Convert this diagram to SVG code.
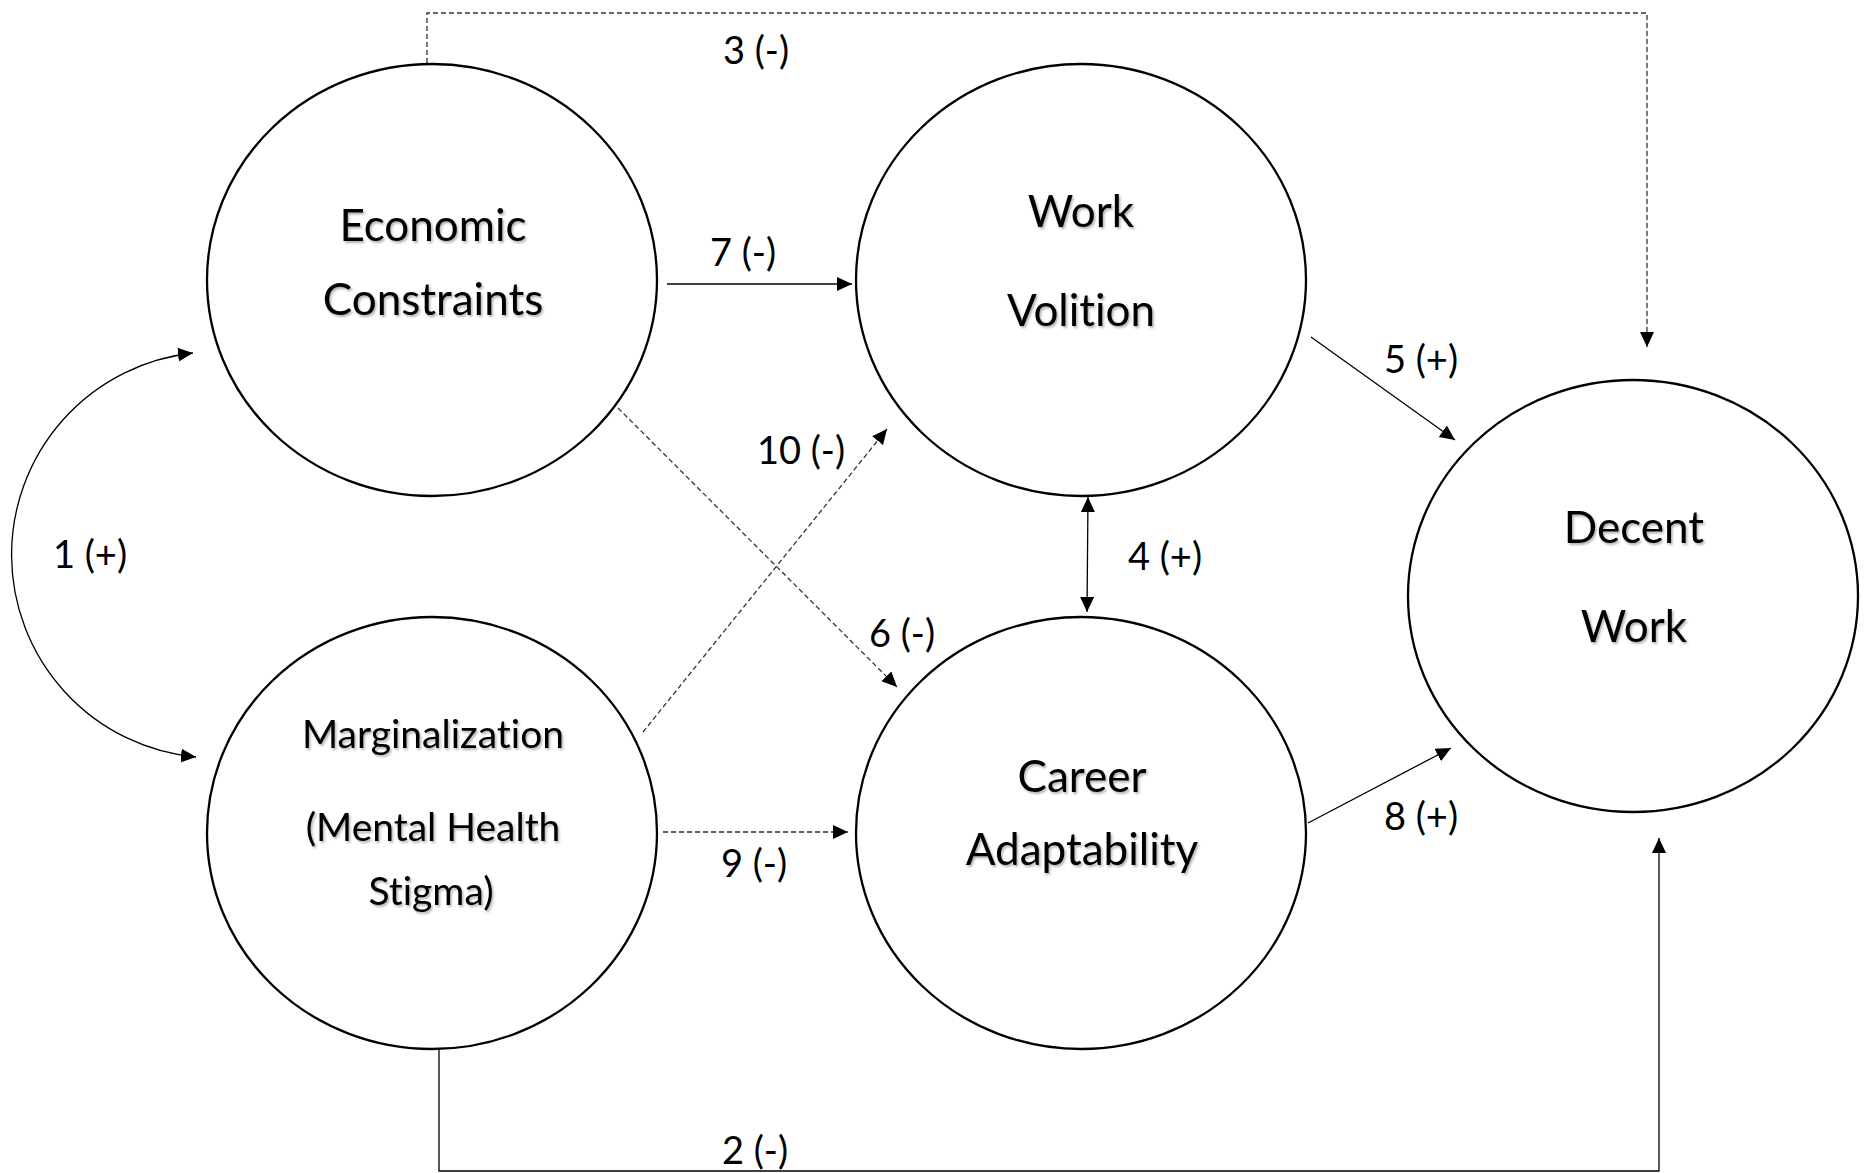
<svg xmlns="http://www.w3.org/2000/svg" width="1864" height="1173" viewBox="0 0 1864 1173">
  <style>
    .node { fill: #ffffff; stroke: #000000; stroke-width: 2.3; }
    .ntext { font-family: Lato, "Open Sans", "Liberation Sans", sans-serif; font-size: 44px; fill: #000000; text-anchor: middle; filter: url(#shadow); font-variant-ligatures: none; font-feature-settings: "liga" 0, "clig" 0; }
    .small { font-size: 39px; }
    .elabel { font-family: Lato, "Open Sans", "Liberation Sans", sans-serif; font-size: 38px; fill: #000000; text-anchor: middle; font-variant-ligatures: none; }
    .edge { fill: none; stroke: #000000; stroke-width: 1.3; }
    .dash { stroke: #333333; stroke-dasharray: 5 3; }
  </style>
  <defs>
    <marker id="arrow" markerUnits="userSpaceOnUse" markerWidth="16" markerHeight="15" refX="15" refY="7" orient="auto-start-reverse">
      <path d="M0,0 L15,7 L0,14 z" fill="#000000"/>
    </marker>
    <filter id="shadow" x="-10%" y="-20%" width="130%" height="150%">
      <feDropShadow dx="1.5" dy="2" stdDeviation="1.2" flood-color="#000000" flood-opacity="0.3"/>
    </filter>
  </defs>
  <rect width="1864" height="1173" fill="#ffffff"/>

  <g id="connectors">
    <path id="e1" class="edge" d="M193 353 A203 203 0 0 0 196 757" marker-start="url(#arrow)" marker-end="url(#arrow)"/>
    <path id="e2" class="edge" d="M439 1049 V1171 H1659 V838" marker-end="url(#arrow)"/>
    <path id="e3" class="edge dash" d="M427 63 V13 H1647 V347" marker-end="url(#arrow)"/>
    <path id="e4" class="edge" d="M1088 497 L1087 612" marker-start="url(#arrow)" marker-end="url(#arrow)"/>
    <path id="e5" class="edge" d="M1311 337 L1455 440" marker-end="url(#arrow)"/>
    <path id="e6" class="edge dash" d="M618 408 L897 687" marker-end="url(#arrow)"/>
    <path id="e7" class="edge" d="M667 284 L852 284" marker-end="url(#arrow)"/>
    <path id="e8" class="edge" d="M1308 823 L1451 748" marker-end="url(#arrow)"/>
    <path id="e9" class="edge dash" d="M663 832 L848 832" marker-end="url(#arrow)"/>
    <path id="e10" class="edge dash" d="M643 732 L887 429" marker-end="url(#arrow)"/>

    <text class="elabel" x="90" y="568">1 (+)</text>
    <text class="elabel" x="755" y="1164">2 (-)</text>
    <text class="elabel" x="756" y="64">3 (-)</text>
    <text class="elabel" x="1165" y="570">4 (+)</text>
    <text class="elabel" x="1421" y="373">5 (+)</text>
    <text class="elabel" x="902" y="647">6 (-)</text>
    <text class="elabel" x="743" y="266">7 (-)</text>
    <text class="elabel" x="1421" y="830">8 (+)</text>
    <text class="elabel" x="754" y="877">9 (-)</text>
    <text class="elabel" x="801" y="464">10 (-)</text>
  </g>

  <g id="economic-constraints">
    <ellipse class="node" cx="432" cy="280" rx="225" ry="216"/>
    <text class="ntext" x="433" y="241">Economic</text>
    <text class="ntext" x="433" y="315">Constraints</text>
  </g>

  <g id="work-volition">
    <ellipse class="node" cx="1081" cy="280" rx="225" ry="216"/>
    <text class="ntext" x="1081" y="227">Work</text>
    <text class="ntext" x="1081" y="326">Volition</text>
  </g>

  <g id="marginalization">
    <ellipse class="node" cx="432" cy="833" rx="225" ry="216"/>
    <text class="ntext small" x="433" y="748">Marginalization</text>
    <text class="ntext small" x="433" y="841">(Mental Health</text>
    <text class="ntext small" x="431" y="905">Stigma)</text>
  </g>

  <g id="career-adaptability">
    <ellipse class="node" cx="1081" cy="833" rx="225" ry="216"/>
    <text class="ntext" x="1082" y="792">Career</text>
    <text class="ntext" x="1082" y="865">Adaptability</text>
  </g>

  <g id="decent-work">
    <ellipse class="node" cx="1633" cy="596" rx="225" ry="216"/>
    <text class="ntext" x="1634" y="543">Decent</text>
    <text class="ntext" x="1634" y="642">Work</text>
  </g>
</svg>
